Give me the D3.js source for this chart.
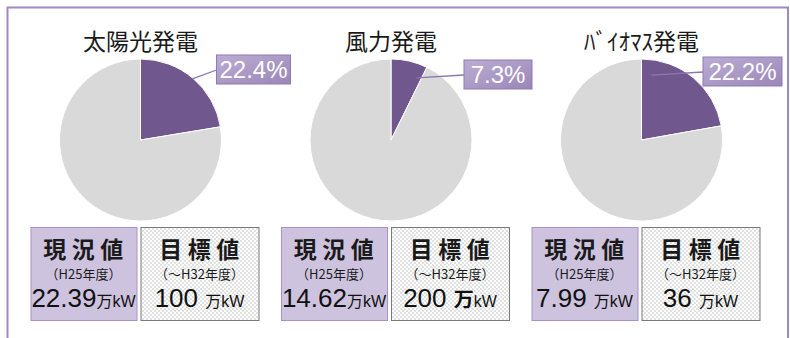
<!DOCTYPE html>
<html>
<head>
<meta charset="utf-8">
<script src="https://cdn.jsdelivr.net/npm/d3@7/dist/d3.min.js"></script>
<style>
  html, body { margin: 0; padding: 0; background: #fff; }
  svg { display: block; }
</style>
</head>
<body>
<svg id="chart" width="790" height="338"></svg>
<script>
// Renewable energy: current capacity vs. target, one pie per source
const sources = ["太陽光発電", "風力発電", "ﾊﾞｲｵﾏｽ発電"];
const shares = [22.4, 7.3, 22.2];              // % of target achieved
const currentValues = ["22.39", "14.62", "7.99 "]; // 万kW (H25)
const targetValues = ["100 ", "200 ", "36 "];      // 万kW (~H32)
const currentHeading = "現況値";
const currentPeriod = "（H25年度）";
const targetHeading = "目標値";
const targetPeriod = "（～H32年度）";
const unitLabel = "万kW";

const svg = d3.select("#chart");
const W = 790, H = 338;

const purple = "#70588f";
const grey = "#d9d9d9";
const jp = "'Noto Sans CJK JP', 'Noto Sans', sans-serif";
const num = "'Liberation Sans', Arial, sans-serif";

// defs: dotted fill for target boxes, gradient for percent tags
const defs = svg.append("defs");
const pat = defs.append("pattern")
  .attr("id", "dots").attr("patternUnits", "userSpaceOnUse")
  .attr("width", 4).attr("height", 4);
pat.append("rect").attr("width", 4).attr("height", 4).attr("fill", "#fff");
pat.append("circle").attr("cx", 1).attr("cy", 1).attr("r", 0.75).attr("fill", "#b4b4b4");
pat.append("circle").attr("cx", 3).attr("cy", 3).attr("r", 0.75).attr("fill", "#b4b4b4");

const grad = defs.append("linearGradient")
  .attr("id", "tagFill").attr("x1", "0").attr("y1", "0").attr("x2", "1").attr("y2", "1");
grad.append("stop").attr("offset", "0%").attr("stop-color", "#bcadd3");
grad.append("stop").attr("offset", "100%").attr("stop-color", "#9a86b8");

// outer frame (open at the bottom edge of the view)
svg.append("rect")
  .attr("x", 7.5).attr("y", 7.5).attr("width", 780.5).attr("height", H + 20)
  .attr("fill", "none").attr("stroke", "#9d89c3").attr("stroke-width", 2);

// panel layout
const centers = d3.scalePoint().domain(sources).range([140.5, 641.5]);
const cy = 140;
const radius = 81;
const leader = [
  { ang: 0.112, r: 0.99, tagDx: 76, tagY: 55, tagW: 74 },
  { ang: 0.062, r: 0.83, tagDx: 73, tagY: 60, tagW: 68 },
  { ang: 0.024, r: 0.81, tagDx: 61.5, tagY: 57, tagW: 79 }
];
const tagH = 29;
const targetUnitSize = [16, 20, 16];

const pie = d3.pie().sort(null).value(d => d);
const arc = d3.arc().innerRadius(0).outerRadius(radius);

sources.forEach((name, i) => {
  const cx = centers(name);
  const g = svg.append("g").attr("transform", `translate(${cx},${cy})`);

  // title
  svg.append("text")
    .attr("x", cx).attr("y", 50)
    .attr("text-anchor", "middle")
    .attr("font-family", jp).attr("font-size", 23)
    .attr("fill", "#1a1a1a")
    .text(name);

  // pie
  const arcs = pie([shares[i], 100 - shares[i]]);
  g.selectAll("path").data(arcs).join("path")
    .attr("d", arc)
    .attr("fill", (d, j) => j === 0 ? purple : grey)
    .attr("stroke", "#fff").attr("stroke-width", 1);

  // leader line and percentage tag
  const L = leader[i];
  const a = L.ang * 2 * Math.PI;
  const sx = Math.sin(a) * radius * L.r, sy = -Math.cos(a) * radius * L.r;
  const tx = L.tagDx, ty = L.tagY - cy + 15;
  g.append("line")
    .attr("x1", sx).attr("y1", sy).attr("x2", tx).attr("y2", ty)
    .attr("stroke", "#8b76ae").attr("stroke-width", 1.3);
  g.append("rect")
    .attr("x", tx).attr("y", L.tagY - cy)
    .attr("width", L.tagW).attr("height", tagH)
    .attr("fill", "url(#tagFill)").attr("stroke", "#8f7bb3").attr("stroke-width", 1);
  g.append("text")
    .attr("x", tx + L.tagW / 2).attr("y", L.tagY - cy + 23)
    .attr("text-anchor", "middle")
    .attr("font-family", num).attr("font-size", 24)
    .attr("fill", "#fff")
    .text(d3.format(".1f")(shares[i]) + "%");

  // value boxes
  const bx = cx - 110, by = 227, bh = 93;
  const cw = 106, tw = 118, gap = 4;

  svg.append("rect")
    .attr("x", bx + 0.5).attr("y", by + 0.5).attr("width", cw).attr("height", bh)
    .attr("fill", "#cdc3de").attr("stroke", "#a692c6").attr("stroke-width", 1);
  svg.append("rect")
    .attr("x", bx + cw + gap + 0.5).attr("y", by + 0.5).attr("width", tw).attr("height", bh)
    .attr("fill", "url(#dots)").attr("stroke", "#7a7a7a").attr("stroke-width", 1);

  const boxes = [
    { x: bx + cw / 2, head: currentHeading, period: currentPeriod, value: currentValues[i], unitSize: 16 },
    { x: bx + cw + gap + tw / 2, head: targetHeading, period: targetPeriod, value: targetValues[i], unitSize: targetUnitSize[i] }
  ];
  boxes.forEach(b => {
    svg.append("text")
      .attr("x", b.x + 2.5).attr("y", by + 31)
      .attr("text-anchor", "middle")
      .attr("font-family", jp).attr("font-size", 23).attr("font-weight", 700)
      .attr("letter-spacing", 5.5)
      .attr("fill", "#1a1a1a")
      .text(b.head);
    svg.append("text")
      .attr("x", b.x).attr("y", by + 52)
      .attr("text-anchor", "middle")
      .attr("font-family", jp).attr("font-size", 13)
      .attr("fill", "#1a1a1a")
      .text(b.period);
    const t = svg.append("text")
      .attr("x", b.x).attr("y", by + 80)
      .attr("text-anchor", "middle")
      .attr("fill", "#111")
      .style("white-space", "pre");
    t.append("tspan")
      .attr("font-family", num).attr("font-size", 26)
      .text(b.value);
    t.append("tspan")
      .attr("font-family", jp).attr("font-size", b.unitSize)
      .attr("font-weight", b.unitSize > 18 ? 700 : 400)
      .text(unitLabel.slice(0, 1));
    t.append("tspan")
      .attr("font-family", num).attr("font-size", 16)
      .text(unitLabel.slice(1));
  });
});
</script>
</body>
</html>
